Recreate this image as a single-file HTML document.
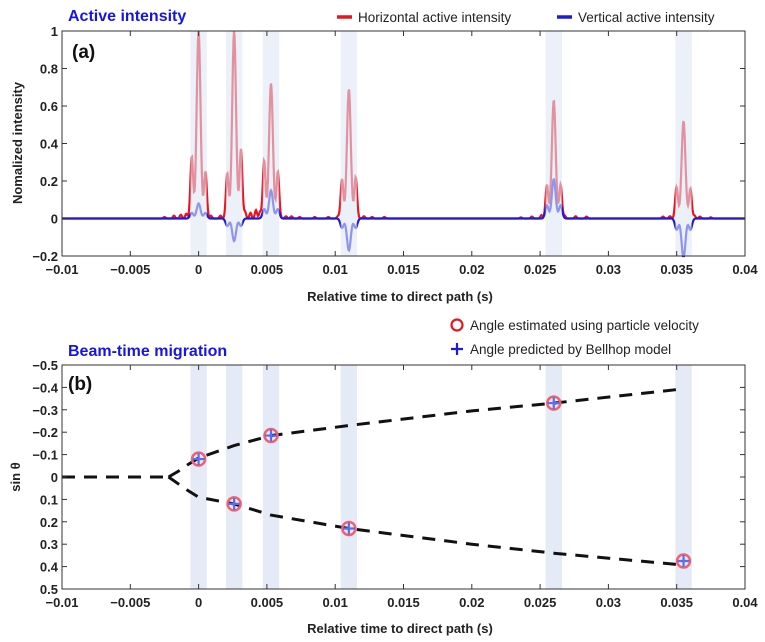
<!DOCTYPE html>
<html><head><meta charset="utf-8"><style>
html,body{margin:0;padding:0;background:#fff;}
svg{display:block;font-family:"Liberation Sans",Arial,sans-serif;}
</style></head><body>
<svg id="c" width="765" height="642" viewBox="0 0 765 642" xmlns="http://www.w3.org/2000/svg"></svg>
<script>
// ---- data ----
const peakTimes   = [0, 0.0026, 0.0053, 0.011, 0.026, 0.0355];
const hMain       = [1.0, 1.0, 0.72, 0.69, 0.63, 0.52];
const hSideLeft   = [0.33, 0.24, 0.31, 0.21, 0.18, 0.16];
const hSideRight  = [0.25, 0.37, 0.25, 0.22, 0.18, 0.16];
const vMain       = [0.08, -0.12, 0.15, -0.17, 0.21, -0.21];
const vSide       = [0.03, -0.04, 0.05, -0.05, 0.07, -0.06];
const rippleTimes = [-0.0025,-0.0018,-0.0013,-0.0009,0.0009,0.0016,0.0034,0.0038,0.0042,0.0045,0.0064,0.0068,0.0074,0.0085,0.0095,0.0102,0.0121,0.0127,0.0136,0.0236,0.0244,0.0251,0.0268,0.0276,0.0284,0.0340,0.0345,0.0349,0.0363,0.0367,0.0375];
const rippleAmps  = [0.008,0.015,0.02,0.025,0.015,0.015,0.035,0.03,0.045,0.035,0.012,0.012,0.008,0.008,0.008,0.012,0.012,0.008,0.008,0.006,0.01,0.018,0.015,0.012,0.01,0.01,0.012,0.018,0.015,0.01,0.006];
const bandCenters = [0, 0.0026, 0.0053, 0.011, 0.026, 0.0355];
const xTicks = [-0.01,-0.005,0,0.005,0.01,0.015,0.02,0.025,0.03,0.035,0.04];
const xTickLabels = ["\u22120.01","\u22120.005","0","0.005","0.01","0.015","0.02","0.025","0.03","0.035","0.04"];
const yTicksA = [1,0.8,0.6,0.4,0.2,0,-0.2];
const yTickLabelsA = ["1","0.8","0.6","0.4","0.2","0","\u22120.2"];
const yTicksB = [-0.5,-0.4,-0.3,-0.2,-0.1,0,0.1,0.2,0.3,0.4,0.5];
const yTickLabelsB = ["\u22120.5","\u22120.4","\u22120.3","\u22120.2","\u22120.1","0","0.1","0.2","0.3","0.4","0.5"];
const flatT = [-0.01, -0.0025];
const flatY = [0, 0];
const upperT = [-0.0022, -0.0015, -0.0008, 0, 0.0026, 0.0053, 0.011, 0.02, 0.026, 0.035];
const upperY = [0, -0.025, -0.055, -0.085, -0.14, -0.185, -0.23, -0.295, -0.33, -0.39];
const lowerT = [-0.0022, -0.0015, -0.0008, 0, 0.0026, 0.0053, 0.011, 0.02, 0.026, 0.035];
const lowerY = [0, 0.03, 0.06, 0.09, 0.12, 0.17, 0.23, 0.3, 0.34, 0.39];
const estT = [0, 0.0053, 0.026, 0.0026, 0.011, 0.0355];
const estY = [-0.08, -0.185, -0.33, 0.12, 0.23, 0.375];

// ---- helpers ----
const NS="http://www.w3.org/2000/svg";
const svg=document.getElementById('c');
function mk(tag,attrs,parent){const e=document.createElementNS(NS,tag);for(const k in attrs)e.setAttribute(k,attrs[k]);(parent||svg).appendChild(e);return e;}
const X0=62,X1=745;
const sx=t=>X0+(t+0.01)/0.05*(X1-X0);
const AY0=31,AY1=256;
const syA=v=>AY0+(1-v)/1.2*(AY1-AY0);
const BY0=365,BY1=589;
const syB=v=>BY0+(v+0.5)*(BY1-BY0);
const g=(t,c,s)=>Math.exp(-((t-c)*(t-c))/(2*s*s));

function txt(x,y,s,attrs,name){const e=mk('text',Object.assign({x:x,y:y},attrs));e.textContent=s;return e;}

// ---- Panel A ----
const gA=mk('g',{});


let hp=[],vp=[];
for(let px=X0;px<=X1;px+=0.5){
  const t=(px-X0)/(X1-X0)*0.05-0.01;
  let h=0,v=0;
  for(let i=0;i<peakTimes.length;i++){
    const c=peakTimes[i];
    h+=hMain[i]*g(t,c,0.00014)+hSideLeft[i]*g(t,c-0.0005,0.0001)+hSideRight[i]*g(t,c+0.0005,0.0001);
    v+=vMain[i]*g(t,c,0.00014)+vSide[i]*(g(t,c-0.0005,0.00012)+g(t,c+0.0005,0.00012));
  }
  for(let j=0;j<rippleTimes.length;j++)h+=rippleAmps[j]*g(t,rippleTimes[j],0.00008);
  hp.push(px.toFixed(1)+','+Math.max(AY0,syA(h)).toFixed(1));
  vp.push(px.toFixed(1)+','+Math.min(AY1,syA(v)).toFixed(1));
}
const hl=mk('polyline',{points:hp.join(' '),fill:'none',stroke:'#e8141e','stroke-width':2.2},gA);


const vl=mk('polyline',{points:vp.join(' '),fill:'none',stroke:'#1a1ae0','stroke-width':2.2},gA);


bandCenters.forEach((c,i)=>{
  const r=mk('rect',{x:sx(c-0.0006),y:AY0,width:sx(0.0006)-sx(-0.0006),height:AY1-AY0,fill:'rgb(222,230,245)','fill-opacity':0.6},gA);
  
  
});
function axes(parent,y0,y1,yt,ylab,sy,pre){
  const b=mk('rect',{x:X0,y:y0,width:X1-X0,height:y1-y0,fill:'none',stroke:'#333','stroke-width':1},parent);
  
  
  xTicks.forEach((t,i)=>{
    const x=sx(t);
    mk('line',{x1:x,x2:x,y1:y1,y2:y1-5,stroke:'#333'},parent);
    mk('line',{x1:x,x2:x,y1:y0,y2:y0+5,stroke:'#333'},parent);
    txt(x,y1+18,xTickLabels[i],{'text-anchor':'middle','font-size':13,'font-weight':'bold',fill:'#222'},pre+'-x-tick-label');
  });
  yt.forEach((v,i)=>{
    const y=sy(v);
    mk('line',{x1:X0,x2:X0+5,y1:y,y2:y,stroke:'#333'},parent);
    mk('line',{x1:X1,x2:X1-5,y1:y,y2:y,stroke:'#333'},parent);
    txt(X0-4,y+5,ylab[i],{'text-anchor':'end','font-size':13,'font-weight':'bold',fill:'#222'},pre+'-y-tick-label');
  });
}
axes(gA,AY0,AY1,yTicksA,yTickLabelsA,syA,'panel-a');
txt(400,301,'Relative time to direct path (s)',{'text-anchor':'middle','font-size':13,'font-weight':'bold',fill:'#222'},'x-axis-title-a');
txt(22,143,'Nomalized intensity',{'text-anchor':'middle','font-size':13,'font-weight':'bold',fill:'#222',transform:'rotate(-90 22 143)'},'y-axis-title-a');
txt(68,21,'Active intensity',{'font-size':16,'font-weight':'bold',fill:'#1515e6'},'panel-a-title');
txt(72,58,'(a)',{'font-size':19,'font-weight':'bold',fill:'#111'},'panel-a-label');
mk('line',{x1:337,x2:352,y1:17,y2:17,stroke:'#e8141e','stroke-width':3.5});
txt(358,22,'Horizontal active intensity',{'font-size':13.5,fill:'#222'},'legend-horizontal');
mk('line',{x1:557,x2:572,y1:17,y2:17,stroke:'#1a1ae0','stroke-width':3.5});
txt(578,22,'Vertical active intensity',{'font-size':13.5,fill:'#222'},'legend-vertical');

// ---- Panel B ----
const gB=mk('g',{});


bandCenters.forEach((c,i)=>{
  const r=mk('rect',{x:sx(c-0.0006),y:BY0,width:sx(0.0006)-sx(-0.0006),height:BY1-BY0,fill:'rgb(228,234,246)'},gB);
  
  
});
function dline(T,Y,name){
  const p=mk('polyline',{points:T.map((t,i)=>sx(t).toFixed(1)+','+syB(Y[i]).toFixed(1)).join(' '),fill:'none',stroke:'#111','stroke-width':3,'stroke-dasharray':'13,9'},gB);
  
  
}
dline(flatT,flatY,'pre-split-line');
dline(upperT,upperY,'upper-branch-line');
dline(lowerT,lowerY,'lower-branch-line');
estT.forEach((t,i)=>{
  const x=sx(t),y=syB(estY[i]);
  const c=mk('circle',{cx:x,cy:y,r:6.5,fill:'none',stroke:'#f06070','stroke-width':2.5},gB);
  
  
  const p=mk('path',{d:`M${x-6},${y}H${x+6}M${x},${y-6}V${y+6}`,stroke:'#5a6cf0','stroke-width':2.2},gB);
  
  
});
axes(gB,BY0,BY1,yTicksB,yTickLabelsB,syB,'panel-b');
txt(400,633,'Relative time to direct path (s)',{'text-anchor':'middle','font-size':13,'font-weight':'bold',fill:'#222'},'x-axis-title-b');
txt(20,477,'sin θ',{'text-anchor':'middle','font-size':13,'font-weight':'bold',fill:'#222',transform:'rotate(-90 20 477)'},'y-axis-title-b');
txt(68,356,'Beam-time migration',{'font-size':16,'font-weight':'bold',fill:'#1515e6'},'panel-b-title');
txt(68,390,'(b)',{'font-size':19,'font-weight':'bold',fill:'#111'},'panel-b-label');
mk('circle',{cx:457,cy:325,r:5.5,fill:'none',stroke:'#e8141e','stroke-width':2.2});
txt(470,330,'Angle estimated using particle velocity',{'font-size':13.5,fill:'#222'},'legend-estimated');
mk('path',{d:'M451,349H463M457,343V355',stroke:'#1a1ae0','stroke-width':2.2});
txt(470,354,'Angle predicted by Bellhop model',{'font-size':13.5,fill:'#222'},'legend-predicted');
</script>
</body></html>
